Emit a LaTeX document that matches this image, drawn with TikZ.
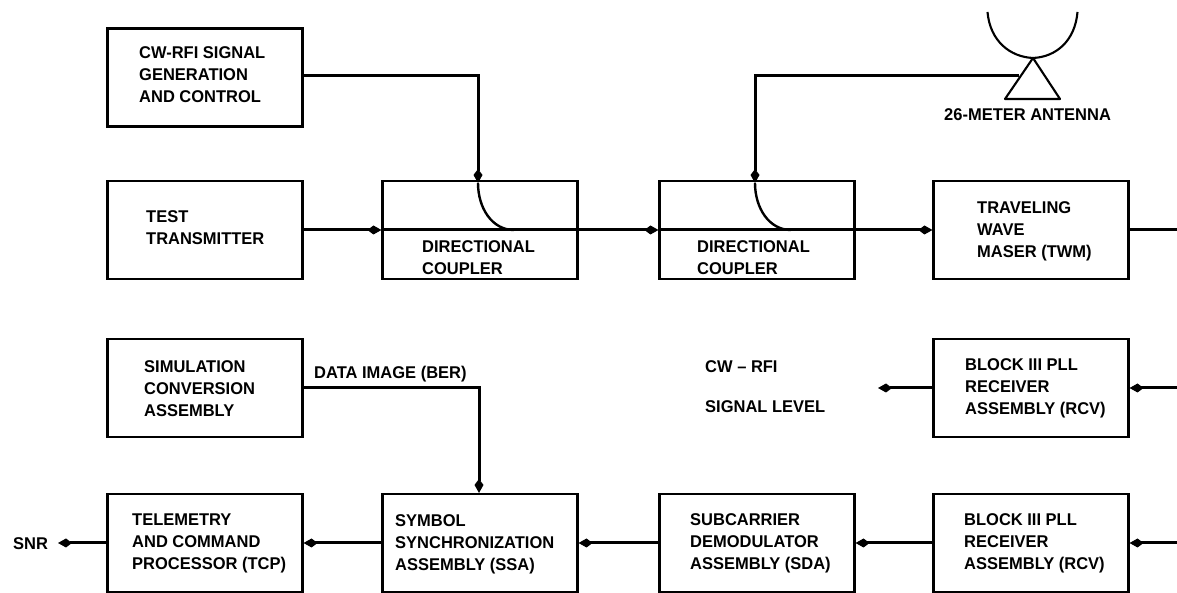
\documentclass[tikz,border=0pt]{standalone}
\usepackage{fontspec}
\setmainfont[FakeStretch=0.97]{Liberation Sans}
\usetikzlibrary{arrows.meta}
\tikzset{
	blockbox/.style={draw,line width=2.1pt,minimum width=195pt,minimum height=98pt,inner sep=0pt},
	blocktext/.style={anchor=west,align=left,inner sep=0pt,font=\fontsize{17}{22}\selectfont\bfseries},
	signal/.style={line width=3pt},
	flow/.style={signal,-{Kite[length=14pt,width=9pt,inset=6pt]}}
}
\begin{document}
\begin{tikzpicture}[x=1pt,y=1pt]
	\useasboundingbox (0,0) rectangle (1177,593);
	% Boxes, top rows
	\node[blockbox] (gen) at (205,515.5) {};
	\node[blockbox] (test) at (205,363) {};
	\node[blockbox] (dca) at (480,363) {};
	\node[blockbox] (dcb) at (757,363) {};
	\node[blockbox] (twm) at (1031,363) {};
	
	% Boxes, bottom rows
	\node[blockbox] (sim) at (205,205) {};
	\node[blockbox] (rcva) at (1031,205) {};
	\node[blockbox] (tcp) at (205,50) {};
	\node[blockbox] (ssa) at (480,50) {};
	\node[blockbox] (sda) at (757,50) {};
	\node[blockbox] (rcvb) at (1031,50) {};
	
	% Box texts
	\node[blocktext] (gentext) at (139,518.5) {CW-RFI SIGNAL\\GENERATION\\AND CONTROL};
	\node[blocktext] (testtext) at (146,365.5) {TEST\\TRANSMITTER};
	\node[blocktext] (dcatext) at (422,335) {DIRECTIONAL\\COUPLER};
	\node[blocktext] (dcbtext) at (697,335) {DIRECTIONAL\\COUPLER};
	\node[blocktext] (twmtext) at (977,361.5) {TRAVELING\\WAVE\\MASER (TWM)};
	\node[blocktext] (simtext) at (144,204.5) {SIMULATION\\CONVERSION\\ASSEMBLY};
	\node[blocktext] (rcvatext) at (965,205) {BLOCK III PLL\\RECEIVER\\ASSEMBLY (RCV)};
	\node[blocktext] (tcptext) at (132,49.5) {TELEMETRY\\AND COMMAND\\PROCESSOR (TCP)};
	\node[blocktext] (ssatext) at (395,49) {SYMBOL\\SYNCHRONIZATION\\ASSEMBLY (SSA)};
	\node[blocktext] (sdatext) at (690,50) {SUBCARRIER\\DEMODULATOR\\ASSEMBLY (SDA)};
	\node[blocktext] (rcvbtext) at (964,49.5) {BLOCK III PLL\\RECEIVER\\ASSEMBLY (RCV)};
	
	% Free labels
	\node[blocktext] (snr) at (13,49) {SNR};
	\node[blocktext] (berlabel) at (314,219) {DATA IMAGE (BER)};
	\node[blocktext] (cwlabel) at (705,226) {CW -- RFI};
	\node[blocktext] (levellabel) at (705,186) {SIGNAL LEVEL};
	\node[blocktext] (antlabel) at (944,478) {26-METER ANTENNA};
	
	% Antenna
	\coordinate (apex) at (1033,535);
	\coordinate (feedl) at (1005,494);
	\coordinate (feedr) at (1060,494);
	\coordinate (feed) at (1019,517);
	\draw[line width=2.1pt] (987.5,581) .. controls (990,552) and (1010,536) .. (apex) .. controls (1056,536) and (1075,552) .. (1077.5,581);
	\draw[line width=2.1pt,line join=round] (apex) -- (feedl) -- (feedr) -- cycle;
	
	% Forward path
	\draw[flow] (test.east) -- (dca.west);
	\draw[signal] (dca.west) -- (dca.east);
	\draw[flow] (dca.east) -- (dcb.west);
	\draw[signal] (dcb.west) -- (dcb.east);
	\draw[flow] (dcb.east) -- (twm.west);
	\coordinate (twmout) at (1177,363);
	\draw[signal] (twm.east) -- (twmout);
	
	% Couplings
	\coordinate (dcain) at (478,410);
	\coordinate (dcbin) at (755,410);
	\coordinate (dcaout) at (514,363);
	\coordinate (dcbout) at (791,363);
	\coordinate (gencorner) at (478,517);
	\coordinate (antcorner) at (755,517);
	\draw[flow] (gen.east |- gencorner) -- (gencorner) -- (dcain);
	\draw[flow] (feed) -- (antcorner) -- (dcbin);
	\draw[line width=2.4pt] (dcain) .. controls (478,385) and (492,363) .. (dcaout);
	\draw[line width=2.4pt] (dcbin) .. controls (755,385) and (769,363) .. (dcbout);
	
	% Bottom row
	\coordinate (rcvain) at (1177,205);
	\coordinate (rcvbin) at (1177,50);
	\coordinate (levelout) at (878,205);
	\coordinate (bercorner) at (479,205);
	\coordinate (snrout) at (58,50);
	\draw[flow] (rcvain) -- (rcva.east);
	\draw[flow] (rcva.west) -- (levelout);
	\draw[flow] (sim.east) -- (bercorner) -- (bercorner |- ssa.north);
	\draw[flow] (rcvbin) -- (rcvb.east);
	\draw[flow] (rcvb.west) -- (sda.east);
	\draw[flow] (sda.west) -- (ssa.east);
	\draw[flow] (ssa.west) -- (tcp.east);
	\draw[flow] (tcp.west) -- (snrout);
\end{tikzpicture}
\end{document}
